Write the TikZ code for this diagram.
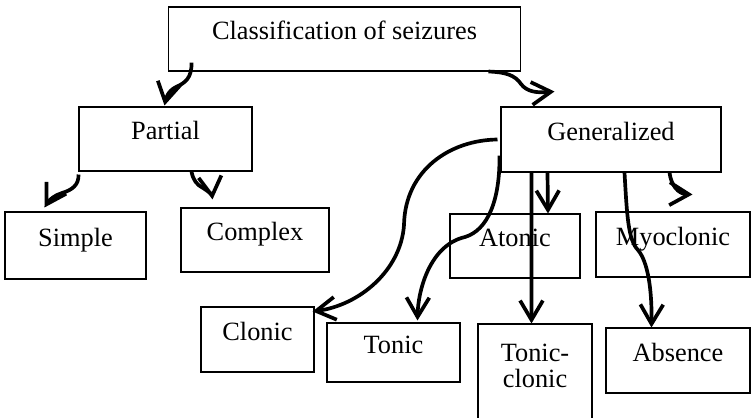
\documentclass[tikz,border=0pt]{standalone}
\usepackage{fontspec}
\setmainfont{Liberation Serif}
\usetikzlibrary{arrows.meta}

\begin{document}
\begin{tikzpicture}[x=0.02cm, y=-0.02cm,
        case/.style={draw, line width=0.6pt, inner sep=0pt, font=\fontsize{15}{15}\selectfont, text height=10.5pt, text depth=9.5pt},
        link/.style={line width=2.1pt, -{Straight Barb[length=11pt,width=13pt]}}]
        \useasboundingbox (0,0) rectangle (751,417);

        %% top of the tree
        \node [case, minimum width=7.06cm, minimum height=1.28cm] (cls) at (344.5,39) {Classification of seizures};
        \node [case, minimum width=3.46cm, minimum height=1.28cm] (partial) at (165.5,139) {Partial};
        \node [case, minimum width=4.4cm, minimum height=1.3cm] (gen) at (611,139.5) {Generalized};

        %% partial seizures
        \node [case, minimum width=2.82cm, minimum height=1.34cm] (simple) at (75.5,245.5) {Simple};
        \node [case, minimum width=2.96cm, minimum height=1.28cm] (complex) at (255,240) {Complex};

        %% generalized seizures
        \node [case, minimum width=2.6cm, minimum height=1.28cm] (atonic) at (515,246) {Atonic};
        \node [case, minimum width=3.08cm, minimum height=1.3cm] (myoclonic) at (673,244.5) {Myoclonic};
        \node [case, minimum width=2.26cm, minimum height=1.3cm] (clonic) at (257.5,339.5) {Clonic};
        \node [case, minimum width=2.66cm, minimum height=1.18cm] (tonic) at (393.5,352.5) {Tonic};
        \node [case, minimum width=2.28cm, minimum height=2.12cm, align=center, text height=23pt, text depth=10.5pt] (tonicclonic) at (535,377) {Tonic-\\clonic};
        \node [case, minimum width=2.88cm, minimum height=1.3cm] (absence) at (678,360.5) {Absence};

        %% arrows from the top box
        \draw [link] ([shift={(24,-9)}]cls.south west) .. controls (192,78) and (185,83) .. (176,87) .. controls (168,91) and (166,98) .. ([shift={(86,-1)}]partial.north west);
        \draw [link] ([shift={(-33,0)}]cls.south east) .. controls (505,72) and (515,75) .. (521,84) .. controls (527,92) and (537,93) .. ([shift={(54,-15)}]gen.north west);

        %% arrows from partial
        \draw [link] ([shift={(0,3)}]partial.south west) .. controls (79,185) and (72,190) .. (62,193) .. controls (55,195) and (49,200) .. ([shift={(40,-4)}]simple.north west);
        \draw [link] ([shift={(113,0)}]partial.south west) .. controls (193,180) and (197,185) .. (203,188) .. controls (208,191) and (212,195) .. ([shift={(32,-8)}]complex.north west);

        %% arrows from generalized
        \draw [link] ([shift={(-3,0)}]gen.west) .. controls (450,140) and (405,170) .. (404,225) .. controls (401,270) and (360,305) .. ([shift={(-2,5)}]clonic.north east);
        \draw [link] ([shift={(-1,-17)}]gen.south west) .. controls (500,200) and (488,230) .. (465,237) .. controls (430,245) and (418,290) .. ([shift={(91,-2)}]tonic.north west);
        \draw [link] ([shift={(31,0)}]gen.south west) -- ([shift={(54,0)}]tonicclonic.north west);
        \draw [link] ([shift={(47,0)}]gen.south west) -- ([shift={(33,0)}]atonic.north);
        \draw [link] ([shift={(124,0)}]gen.south west) .. controls (627,215) and (628,240) .. (638,250) .. controls (648,262) and (652,290) .. ([shift={(46,0)}]absence.north west);
        \draw [link] ([shift={(169,0)}]gen.south west) .. controls (671,185) and (678,194) .. ([shift={(97,-17)}]myoclonic.north west);

\end{tikzpicture}
\end{document}
